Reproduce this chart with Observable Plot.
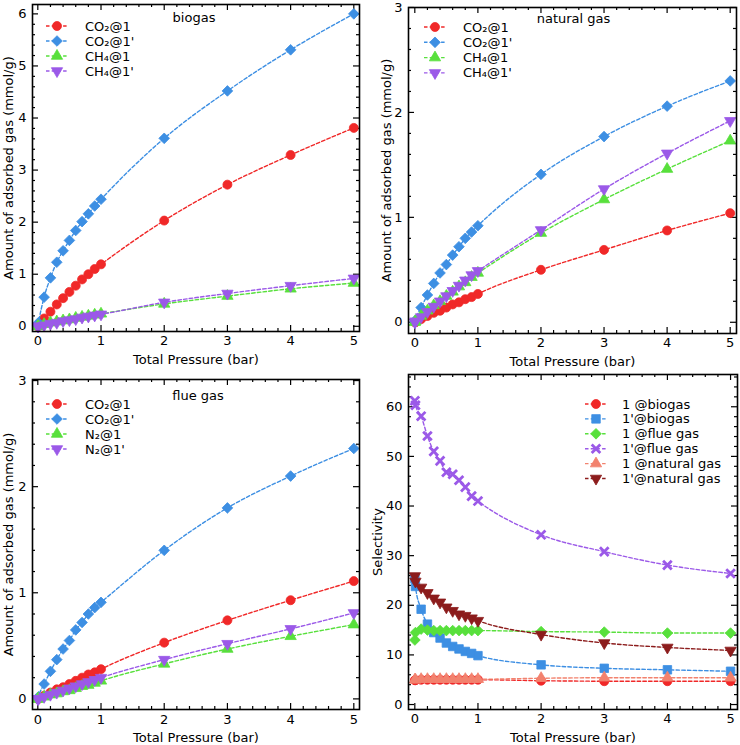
<!DOCTYPE html>
<html>
<head>
<meta charset="utf-8">
<script src="https://cdn.jsdelivr.net/npm/d3@7"></script>
<script src="https://cdn.jsdelivr.net/npm/@observablehq/plot@0.6"></script>
<style>
  body { margin: 0; background: #fff; }
  #wrap { position: relative; width: 740px; height: 745px; font-family: "DejaVu Sans", sans-serif; }
  .panel { position: absolute; }
</style>
</head>
<body>
<div id="wrap"></div>
<script>
// ---------- data ----------
const pressure = [0.001, 0.01, 0.1, 0.2, 0.3, 0.4, 0.5, 0.6, 0.7, 0.8, 0.9, 1, 2, 3, 4, 5];
const xTickValues = [0, 1, 2, 3, 4, 5];
const yTicksBiogas = [0, 1, 2, 3, 4, 5, 6];
const yTicksGas = [0, 1, 2, 3];
const yTicksSel = [0, 10, 20, 30, 40, 50, 60];

// biogas (mmol/g)
const bioCO2_1  = [0.00, 0.02, 0.15, 0.28, 0.42, 0.54, 0.66, 0.78, 0.90, 1.00, 1.10, 1.19, 2.03, 2.72, 3.29, 3.81];
const bioCO2_1p = [0.01, 0.07, 0.56, 0.93, 1.23, 1.45, 1.65, 1.84, 2.01, 2.16, 2.31, 2.44, 3.61, 4.52, 5.31, 6.00];
const bioCH4_1  = [0.00, 0.00, 0.04, 0.07, 0.09, 0.11, 0.13, 0.16, 0.18, 0.20, 0.22, 0.24, 0.43, 0.58, 0.72, 0.83];
const bioCH4_1p = [0.00, 0.00, 0.02, 0.05, 0.07, 0.10, 0.12, 0.14, 0.17, 0.19, 0.21, 0.23, 0.46, 0.63, 0.78, 0.92];

// natural gas (mmol/g)
const natCO2_1  = [0.00, 0.00, 0.03, 0.06, 0.09, 0.11, 0.14, 0.17, 0.19, 0.22, 0.24, 0.27, 0.50, 0.69, 0.875, 1.04];
const natCO2_1p = [0.00, 0.02, 0.14, 0.26, 0.37, 0.47, 0.55, 0.64, 0.72, 0.80, 0.86, 0.92, 1.41, 1.77, 2.06, 2.30];
const natCH4_1  = [0.00, 0.01, 0.06, 0.11, 0.16, 0.20, 0.25, 0.29, 0.34, 0.38, 0.43, 0.47, 0.85, 1.17, 1.46, 1.73];
const natCH4_1p = [0.00, 0.01, 0.05, 0.10, 0.15, 0.20, 0.25, 0.30, 0.35, 0.40, 0.45, 0.49, 0.88, 1.27, 1.61, 1.92];

// flue gas (mmol/g)
const flCO2_1  = [0.00, 0.00, 0.03, 0.06, 0.09, 0.11, 0.14, 0.17, 0.20, 0.23, 0.25, 0.28, 0.53, 0.74, 0.93, 1.11];
const flCO2_1p = [0.00, 0.02, 0.14, 0.26, 0.37, 0.47, 0.55, 0.65, 0.72, 0.80, 0.86, 0.91, 1.40, 1.80, 2.10, 2.36];
const flN2_1   = [0.00, 0.00, 0.02, 0.04, 0.05, 0.07, 0.08, 0.10, 0.12, 0.13, 0.15, 0.17, 0.33, 0.47, 0.59, 0.70];
const flN2_1p  = [0.00, 0.00, 0.02, 0.04, 0.06, 0.08, 0.10, 0.12, 0.14, 0.16, 0.18, 0.20, 0.37, 0.52, 0.66, 0.81];

// selectivity
const selBio_1   = [4.9, 4.9, 5.0, 5.0, 5.0, 5.0, 5.0, 5.0, 5.0, 5.0, 5.0, 5.0, 4.8, 4.7, 4.7, 4.7];
const selBio_1p  = [25.4, 23.8, 19.2, 16.2, 14.5, 13.4, 12.4, 11.7, 11.2, 10.7, 10.3, 9.85, 8.0, 7.3, 7.0, 6.7];
const selFlue_1  = [13.0, 14.5, 15.2, 15.0, 14.9, 14.9, 14.9, 14.9, 14.9, 14.9, 14.9, 14.9, 14.7, 14.6, 14.4, 14.4];
const selFlue_1p = [61.2, 60.3, 58.1, 54.1, 51.0, 49.1, 46.8, 46.4, 45.2, 43.8, 42.0, 41.0, 34.2, 30.8, 28.1, 26.4];
const selNat_1   = [5.0, 5.0, 5.1, 5.1, 5.1, 5.1, 5.1, 5.1, 5.1, 5.1, 5.1, 5.1, 5.3, 5.4, 5.4, 5.4];
const selNat_1p  = [25.9, 24.8, 23.6, 22.5, 21.4, 20.6, 19.6, 18.9, 18.2, 17.9, 17.4, 16.9, 14.1, 12.4, 11.5, 10.9];

// labels
const legendBiogas  = ["CO₂@1", "CO₂@1'", "CH₄@1", "CH₄@1'"];
const legendNatural = ["CO₂@1", "CO₂@1'", "CH₄@1", "CH₄@1'"];
const legendFlue    = ["CO₂@1", "CO₂@1'", "N₂@1", "N₂@1'"];
const legendSel     = ["1 @biogas", "1'@biogas", "1 @flue gas", "1'@flue gas", "1 @natural gas", "1'@natural gas"];
const xTitle = "Total Pressure (bar)";
const yTitleAds = "Amount of adsorbed gas (mmol/g)";
const yTitleSel = "Selectivity";

// ---------- styles ----------
const RED = "#f02828", BLUE = "#3d8fe3", GREEN = "#58e03c", PURPLE = "#9b59e8", SALMON = "#f2826e", DARKRED = "#8c1c1c";
const adsStyles = [
  {color: RED, symbol: "circle", r: 4.5},
  {color: BLUE, symbol: "diamond2", r: 4.8},
  {color: GREEN, symbol: "triangle", r: 4.2},
  {color: PURPLE, symbol: "triangle", r: 4.2, rotate: 180}
];
const selStyles = [
  {color: RED, symbol: "circle", r: 4.5},
  {color: BLUE, symbol: "square", r: 4.8},
  {color: GREEN, symbol: "diamond2", r: 4.8},
  {color: PURPLE, symbol: "times", r: 4.0, stroke: true},
  {color: SALMON, symbol: "triangle", r: 4.2},
  {color: DARKRED, symbol: "triangle", r: 4.2, rotate: 180}
];
const d3Symbols = {circle: d3.symbolCircle, diamond2: d3.symbolDiamond2, triangle: d3.symbolTriangle, square: d3.symbolSquare, times: d3.symbolTimes};

const panels = [
  {left: 0, top: 0, width: 370, height: 372, margin: {top: 4, right: 11, bottom: 41, left: 32},
   xDomain: [-0.084, 5.09], yDomain: [-0.1, 6.18], yTicks: yTicksBiogas, yMinorStep: 0.2, yTitle: yTitleAds, yTitleDx: -24,
   title: "biogas", titleDx: -2, titleDy: 13, tickPad: 4,
   series: [bioCO2_1, bioCO2_1p, bioCH4_1, bioCH4_1p], styles: adsStyles, legend: legendBiogas,
   lg: {x0: 46, x1: 68, tx: 85, y0: 26, dy: 15}},
  {left: 370, top: 0, width: 370, height: 372, margin: {top: 7, right: 4, bottom: 39, left: 38},
   xDomain: [-0.1, 5.1], yDomain: [-0.107, 3.0], yTicks: yTicksGas, yMinorStep: 0.2, yTitle: yTitleAds, yTitleDx: -22,
   title: "natural gas", titleDx: 1, titleDy: 11, tickPad: 4,
   series: [natCO2_1, natCO2_1p, natCH4_1, natCH4_1p], styles: adsStyles, legend: legendNatural,
   lg: {x0: 54, x1: 76, tx: 93, y0: 27, dy: 15.3}},
  {left: 0, top: 372, width: 370, height: 373, margin: {top: 7, right: 11, bottom: 36, left: 32},
   xDomain: [-0.084, 5.09], yDomain: [-0.1, 3.01], yTicks: yTicksGas, yMinorStep: 0.2, yTitle: yTitleAds, yTitleDx: -24,
   title: "flue gas", titleDx: 2, titleDy: 16, tickPad: 5,
   series: [flCO2_1, flCO2_1p, flN2_1, flN2_1p], styles: adsStyles, legend: legendFlue,
   lg: {x0: 46, x1: 68, tx: 85, y0: 32, dy: 15}},
  {left: 370, top: 372, width: 370, height: 373, margin: {top: 2, right: 3, bottom: 36, left: 38},
   xDomain: [-0.1, 5.11], yDomain: [-1, 66.5], yTicks: yTicksSel, yMinorStep: 2, yTitle: yTitleSel, yTitleDx: -31,
   title: null, tickPad: 4,
   series: [selBio_1, selBio_1p, selFlue_1, selFlue_1p, selNat_1, selNat_1p], styles: selStyles, legend: legendSel,
   lg: {x0: 215, x1: 237, tx: 252, y0: 32, dy: 14.9}}
];

const wrap = document.getElementById("wrap");

function makePanel(cfg) {
  const m = cfg.margin;
  const plotW = cfg.width - m.left - m.right;
  const plotH = cfg.height - m.top - m.bottom;
  const isMajor = (d, step) => Math.abs(d / step - Math.round(d / step)) < 1e-6;
  const xMinor = d3.range(0, 5.0001, 0.2).filter(d => !isMajor(d, 1));
  const yMajorStep = cfg.yTicks[1] - cfg.yTicks[0];
  const yMinor = d3.range(0, cfg.yDomain[1] + 1e-6, cfg.yMinorStep).filter(d => !isMajor(d, yMajorStep));
  const tk = {stroke: "#000", strokeWidth: 1.2};
  const fmt = d => String(d);
  const marks = [];
  // inward ticks on all four sides
  marks.push(Plot.tickX(xTickValues, {x: d => d, insetTop: plotH - 6, ...tk}));
  marks.push(Plot.tickX(xTickValues, {x: d => d, insetBottom: plotH - 6, ...tk}));
  marks.push(Plot.tickX(xMinor, {x: d => d, insetTop: plotH - 3, ...tk}));
  marks.push(Plot.tickX(xMinor, {x: d => d, insetBottom: plotH - 3, ...tk}));
  marks.push(Plot.tickY(cfg.yTicks, {y: d => d, insetRight: plotW - 6, ...tk}));
  marks.push(Plot.tickY(cfg.yTicks, {y: d => d, insetLeft: plotW - 6, ...tk}));
  marks.push(Plot.tickY(yMinor, {y: d => d, insetRight: plotW - 3, ...tk}));
  marks.push(Plot.tickY(yMinor, {y: d => d, insetLeft: plotW - 3, ...tk}));
  marks.push(Plot.axisX(xTickValues, {tickSize: 0, tickPadding: cfg.tickPad, label: null, tickFormat: fmt}));
  marks.push(Plot.axisY(cfg.yTicks, {tickSize: 0, tickPadding: 6, label: null, tickFormat: fmt}));
  // series
  cfg.series.forEach((vals, k) => {
    const st = cfg.styles[k];
    const data = pressure.map((p, i) => ({p, v: vals[i]}));
    marks.push(Plot.line(data, {x: "p", y: "v", stroke: st.color, strokeWidth: 1.4, strokeDasharray: "3.5,2.2", curve: "monotone-x"}));
    if (st.stroke) {
      marks.push(Plot.dot(data, {x: "p", y: "v", symbol: st.symbol, r: st.r, fill: "none", stroke: st.color, strokeWidth: 2.8}));
    } else {
      marks.push(Plot.dot(data, {x: "p", y: "v", symbol: st.symbol, r: st.r, fill: st.color, stroke: st.color, strokeWidth: 0.8, rotate: st.rotate || 0}));
    }
  });
  marks.push(Plot.frame({stroke: "#000", strokeWidth: 1.6}));
  // axis titles
  marks.push(Plot.text([xTitle], {text: d => d, frameAnchor: "bottom", dy: 28, fontSize: 13, textAnchor: "middle", lineAnchor: "middle"}));
  marks.push(Plot.text([cfg.yTitle], {text: d => d, frameAnchor: "left", dx: cfg.yTitleDx, rotate: -90, fontSize: 13, textAnchor: "middle", lineAnchor: "middle"}));
  if (cfg.title) marks.push(Plot.text([cfg.title], {text: d => d, frameAnchor: "top", dx: cfg.titleDx, dy: cfg.titleDy, fontSize: 13, textAnchor: "middle", lineAnchor: "middle"}));

  const svg = Plot.plot({
    width: cfg.width, height: cfg.height,
    marginTop: m.top, marginRight: m.right, marginBottom: m.bottom, marginLeft: m.left,
    x: {domain: cfg.xDomain}, y: {domain: cfg.yDomain},
    style: {fontFamily: "DejaVu Sans, sans-serif", fontSize: "13px", color: "#000", background: "#fff", overflow: "visible"},
    marks
  });

  // legend
  const g = d3.select(svg).append("g")
    .attr("font-family", "DejaVu Sans, sans-serif").attr("font-size", 13).attr("text-anchor", "start");
  const lg = cfg.lg;
  cfg.legend.forEach((label, k) => {
    const st = cfg.styles[k];
    const y = lg.y0 + k * lg.dy;
    g.append("line").attr("x1", lg.x0).attr("x2", lg.x1).attr("y1", y).attr("y2", y)
      .attr("stroke", st.color).attr("stroke-width", 1.4).attr("stroke-dasharray", "3.5,2.2");
    const path = g.append("path")
      .attr("d", d3.symbol(d3Symbols[st.symbol], st.r * st.r * Math.PI)())
      .attr("transform", `translate(${(lg.x0 + lg.x1) / 2},${y}) rotate(${st.rotate || 0})`);
    if (st.stroke) path.attr("fill", "none").attr("stroke", st.color).attr("stroke-width", 2.8);
    else path.attr("fill", st.color).attr("stroke", st.color).attr("stroke-width", 0.8);
    g.append("text").attr("x", lg.tx).attr("y", y).attr("dy", "0.35em")
      .attr("text-anchor", "start").attr("fill", "#000").text(label);
  });

  const div = document.createElement("div");
  div.className = "panel";
  div.style.left = cfg.left + "px";
  div.style.top = cfg.top + "px";
  div.appendChild(svg);
  wrap.appendChild(div);
}

panels.forEach(makePanel);
</script>
</body>
</html>
